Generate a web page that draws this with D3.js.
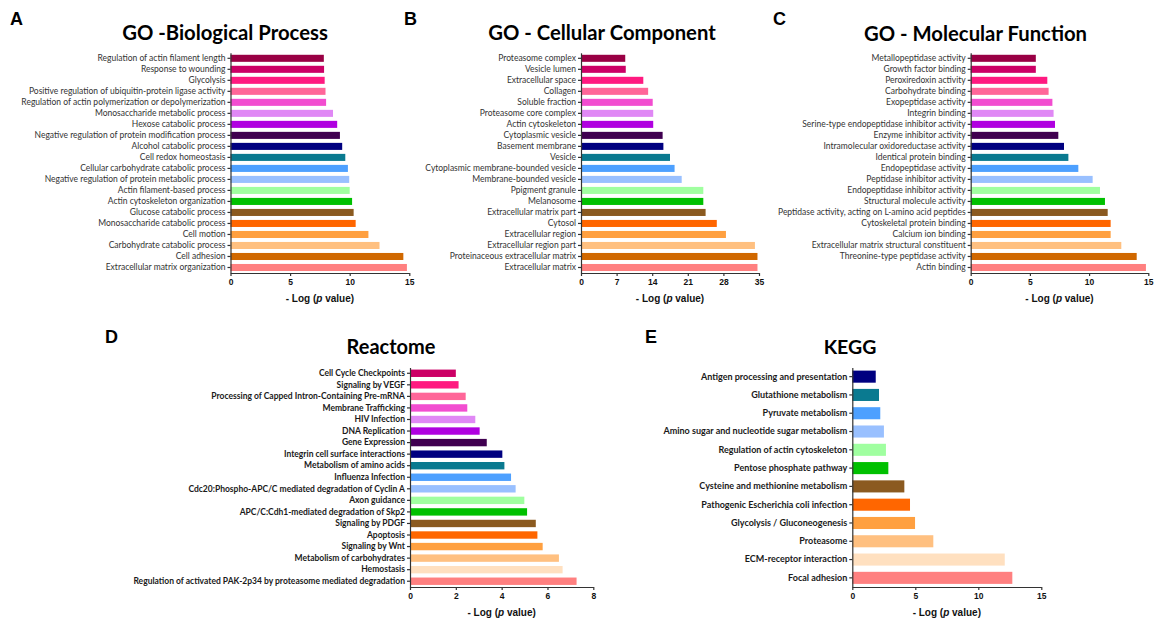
<!DOCTYPE html>
<html>
<head>
<meta charset="utf-8">
<script src="https://cdn.jsdelivr.net/npm/d3@7"></script>
<style>
  body { margin: 0; background: #fff; }
  svg { display: block; }
</style>
</head>
<body>
<div id="chart"></div>
<script>
// data, listed top to bottom as drawn
const bpTerms = ['Regulation of actin filament length', 'Response to wounding', 'Glycolysis',
  'Positive regulation of ubiquitin-protein ligase activity', 'Regulation of actin polymerization or depolymerization',
  'Monosaccharide metabolic process', 'Hexose catabolic process', 'Negative regulation of protein modification process',
  'Alcohol catabolic process', 'Cell redox homeostasis', 'Cellular carbohydrate catabolic process',
  'Negative regulation of protein metabolic process', 'Actin filament-based process', 'Actin cytoskeleton organization',
  'Glucose catabolic process', 'Monosaccharide catabolic process', 'Cell motion', 'Carbohydrate catabolic process',
  'Cell adhesion', 'Extracellular matrix organization']
const bpValues = [7.83, 7.85, 7.9, 7.97, 8.02, 8.6, 8.95, 9.18, 9.37, 9.63, 9.85, 9.96, 10.0, 10.2, 10.33, 10.5, 11.57, 12.5, 14.5, 14.8]

const ccTerms = ['Proteasome complex', 'Vesicle lumen', 'Extracellular space', 'Collagen', 'Soluble fraction',
  'Proteasome core complex', 'Actin cytoskeleton', 'Cytoplasmic vesicle', 'Basement membrane', 'Vesicle',
  'Cytoplasmic membrane-bounded vesicle', 'Membrane-bounded vesicle', 'Ppigment granule', 'Melanosome',
  'Extracellular matrix part', 'Cytosol', 'Extracellular region', 'Extracellular region part',
  'Proteinaceous extracellular matrix', 'Extracellular matrix']
const ccValues = [8.7, 8.8, 12.25, 13.2, 14.1, 14.2, 14.2, 16.05, 16.2, 17.5, 18.4, 19.8, 24.05, 24.05, 24.5, 26.7, 28.5, 34.2, 34.7, 34.7]

const mfTerms = ['Metallopeptidase activity', 'Growth factor binding', 'Peroxiredoxin activity', 'Carbohydrate binding',
  'Exopeptidase activity', 'Integrin binding', 'Serine-type endopeptidase inhibitor activity', 'Enzyme inhibitor activity',
  'Intramolecular oxidoreductase activity', 'Identical protein binding', 'Endopeptidase activity',
  'Peptidase inhibitor activity', 'Endopeptidase inhibitor activity', 'Structural molecule activity',
  'Peptidase activity, acting on L-amino acid peptides', 'Cytoskeletal protein binding', 'Calcium ion binding',
  'Extracellular matrix structural constituent', 'Threonine-type peptidase activity', 'Actin binding']
const mfValues = [5.5, 5.5, 6.47, 6.58, 6.9, 7.0, 7.12, 7.4, 7.88, 8.25, 9.09, 10.3, 10.92, 11.34, 11.57, 11.82, 11.82, 12.72, 14.02, 14.8]

const reTerms = ['Cell Cycle Checkpoints', 'Signaling by VEGF', 'Processing of Capped Intron-Containing Pre-mRNA',
  'Membrane Trafficking', 'HIV Infection', 'DNA Replication', 'Gene Expression', 'Integrin cell surface interactions',
  'Metabolism of amino acids', 'Influenza Infection', 'Cdc20:Phospho-APC/C mediated degradation of Cyclin A',
  'Axon guidance', 'APC/C:Cdh1-mediated degradation of Skp2', 'Signaling by PDGF', 'Apoptosis', 'Signaling by Wnt',
  'Metabolism of carbohydrates', 'Hemostasis', 'Regulation of activated PAK-2p34 by proteasome mediated degradation']
const reValues = [2.0, 2.12, 2.43, 2.5, 2.85, 3.04, 3.35, 4.03, 4.12, 4.41, 4.61, 4.99, 5.11, 5.49, 5.56, 5.79, 6.5, 6.66, 7.27]

const keggTerms = ['Antigen processing and presentation', 'Glutathione metabolism', 'Pyruvate metabolism',
  'Amino sugar and nucleotide sugar metabolism', 'Regulation of actin cytoskeleton', 'Pentose phosphate pathway',
  'Cysteine and methionine metabolism', 'Pathogenic Escherichia coli infection', 'Glycolysis / Gluconeogenesis',
  'Proteasome', 'ECM-receptor interaction', 'Focal adhesion']
const keggValues = [1.86, 2.12, 2.22, 2.51, 2.67, 2.86, 4.13, 4.58, 4.98, 6.43, 12.1, 12.7]

// colours counted from the bottom bar upward
const paletteGO = ['#ff8080', '#d06800', '#ffc080', '#ffa040', '#ff6600', '#8b5a20', '#00c000', '#a0ffa0',
  '#99c0ff', '#4da0ff', '#0a7a90', '#000080', '#400050', '#b000e0', '#e088f5', '#f24dd0', '#ff6699',
  '#ff1a80', '#cc0066', '#990044']
const palettePath = paletteGO.map((c, i) => i === 1 ? '#ffe0c0' : c)

const xTicksA = [0, 5, 10, 15]
const xTicksB = [0, 7, 14, 21, 28, 35]
const xTicksD = [0, 2, 4, 6, 8]

const W = 1154, H = 624

const svg = d3.select('#chart').append('svg')
  .attr('width', W)
  .attr('height', H)

const drawPanel = (p) => {
  const g = svg.append('g')

  const x = d3.scaleLinear()
    .domain([0, p.ticks[p.ticks.length - 1]])
    .range([p.x0, p.x1])

  const y = d3.scaleBand()
    .domain(p.terms)
    .range([p.y0, p.y1])
    .paddingInner(p.pad)
    .paddingOuter(p.pad / 2)

  const n = p.terms.length

  // bars
  g.selectAll('rect')
    .data(p.terms.map((t, i) => ({ term: t, value: p.values[i], idx: n - 1 - i })))
    .enter()
    .append('rect')
    .attr('x', x(0))
    .attr('y', d => y(d.term))
    .attr('width', d => x(d.value) - x(0))
    .attr('height', y.bandwidth())
    .attr('fill', d => p.palette[d.idx])

  // axes
  const xAxis = g.append('g')
    .attr('transform', `translate(0, ${p.y1})`)
    .call(d3.axisBottom(x).tickValues(p.ticks).tickSize(3).tickSizeOuter(0).tickPadding(3))
  xAxis.selectAll('text')
    .attr('font-family', '"Liberation Sans", Arial, sans-serif')
    .attr('font-weight', 'bold')
    .attr('font-size', '8.5px')
    .attr('fill', '#111')

  const yAxis = g.append('g')
    .attr('transform', `translate(${p.x0}, 0)`)
    .call(d3.axisLeft(y).tickSize(3).tickSizeOuter(0).tickPadding(2))
  yAxis.selectAll('text')
    .attr('font-family', 'Lato, "Open Sans", sans-serif')
    .attr('font-weight', p.boldLabels ? 'bold' : 'normal')
    .attr('font-size', p.labelSize + 'px')
    .attr('fill', p.boldLabels ? '#1a1a1a' : '#333')

  g.selectAll('.domain, .tick line')
    .attr('stroke', '#333')
    .attr('stroke-width', 1.2)

  // axis title
  const xt = g.append('text')
    .attr('x', (p.x0 + p.x1) / 2)
    .attr('y', p.y1 + 29)
    .attr('text-anchor', 'middle')
    .attr('font-family', '"Liberation Sans", Arial, sans-serif')
    .attr('font-weight', 'bold')
    .attr('font-size', '10px')
    .attr('fill', '#111')
  xt.append('tspan').text('- Log (')
  xt.append('tspan').attr('font-style', 'italic').text('p')
  xt.append('tspan').text(' value)')

  // title
  g.append('text')
    .attr('x', p.titleX)
    .attr('y', p.titleY)
    .attr('text-anchor', 'middle')
    .attr('font-family', 'Lato, "Open Sans", sans-serif')
    .attr('font-weight', 'bold')
    .attr('font-size', p.titleSize + 'px')
    .attr('fill', '#000')
    .text(p.title)

  // panel letter
  g.append('text')
    .attr('x', p.letterX)
    .attr('y', p.letterY)
    .attr('font-family', '"Liberation Sans", Arial, sans-serif')
    .attr('font-weight', 'bold')
    .attr('font-size', '18px')
    .attr('fill', '#000')
    .text(p.letter)
}

drawPanel({ letter: 'A', letterX: 10, letterY: 25, title: 'GO -Biological Process', titleX: 225, titleY: 40, titleSize: 20.3,
  terms: bpTerms, values: bpValues, palette: paletteGO, ticks: xTicksA,
  x0: 230.5, x1: 409.3, y0: 52.8, y1: 273, pad: 0.36, labelSize: 8.5, boldLabels: false })

drawPanel({ letter: 'B', letterX: 404, letterY: 25, title: 'GO - Cellular Component', titleX: 602, titleY: 40, titleSize: 20.3,
  terms: ccTerms, values: ccValues, palette: paletteGO, ticks: xTicksB,
  x0: 581, x1: 759, y0: 52.8, y1: 273, pad: 0.36, labelSize: 8.5, boldLabels: false })

drawPanel({ letter: 'C', letterX: 773, letterY: 25, title: 'GO - Molecular Function', titleX: 975.5, titleY: 41, titleSize: 20.3,
  terms: mfTerms, values: mfValues, palette: paletteGO, ticks: xTicksA,
  x0: 970.7, x1: 1148.3, y0: 52.8, y1: 273, pad: 0.36, labelSize: 8.5, boldLabels: false })

drawPanel({ letter: 'D', letterX: 105, letterY: 343, title: 'Reactome', titleX: 391, titleY: 354, titleSize: 20,
  terms: reTerms, values: reValues, palette: palettePath.slice(0, reTerms.length), ticks: xTicksD,
  x0: 410, x1: 593.3, y0: 367.5, y1: 587, pad: 0.36, labelSize: 8.5, boldLabels: true })

drawPanel({ letter: 'E', letterX: 645, letterY: 343, title: 'KEGG', titleX: 850, titleY: 354, titleSize: 19.5,
  terms: keggTerms, values: keggValues, palette: palettePath.slice(0, keggTerms.length), ticks: xTicksA,
  x0: 852.3, x1: 1041.3, y0: 367.5, y1: 587, pad: 0.34, labelSize: 9, boldLabels: true })
</script>
</body>
</html>
